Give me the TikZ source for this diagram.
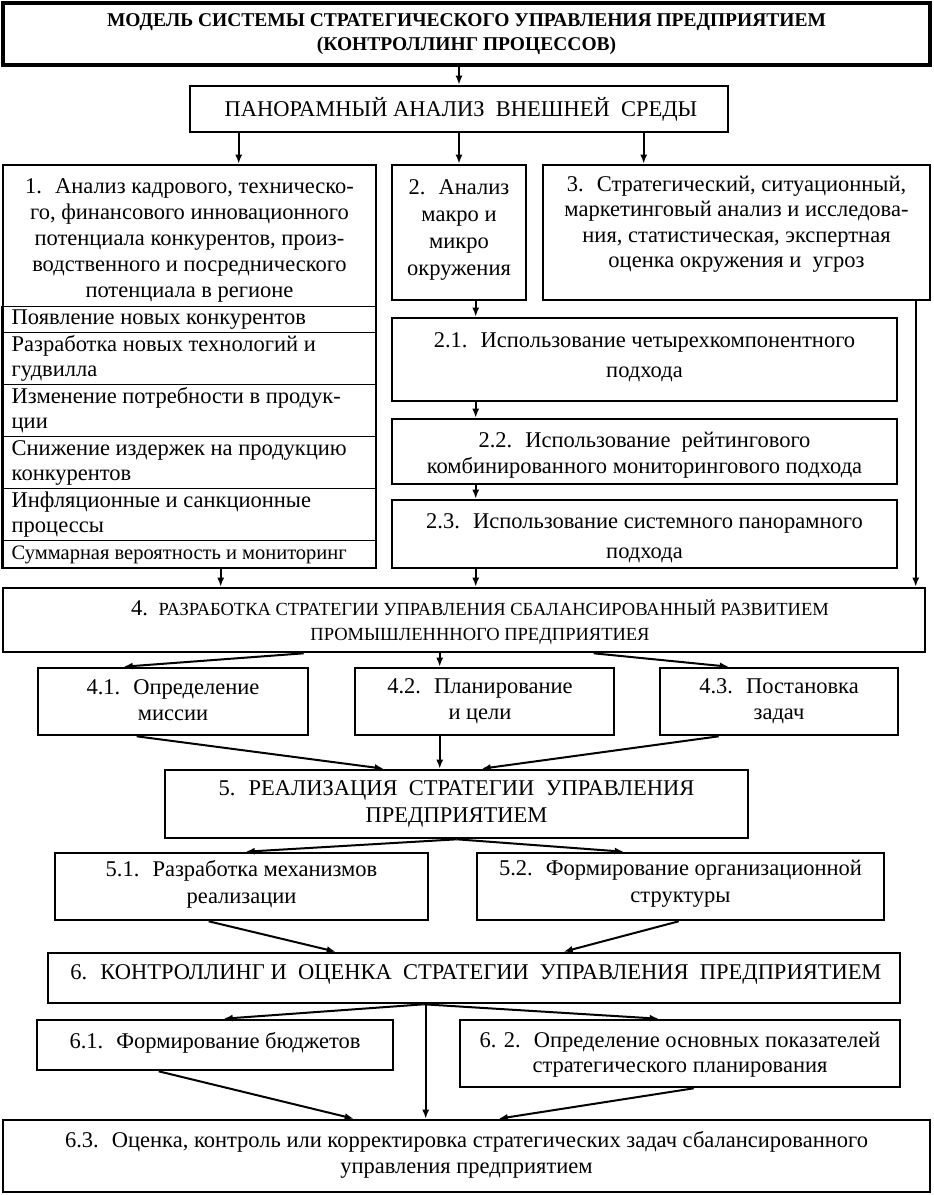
\documentclass[tikz,border=0pt]{standalone}
\usepackage{fontspec}
\setmainfont{Liberation Serif}
\usetikzlibrary{arrows.meta,calc}
\begin{document}
\begin{tikzpicture}[x=1pt,y=-1pt,
  bx/.style={draw=black, line width=2.6pt, inner sep=0pt, anchor=center},
  txt/.style={align=center, inner sep=0pt, font=\fontsize{22.5}{27}\selectfont},
  rowbox/.style={draw=black, line width=1pt, inner sep=0pt, minimum width=375.5pt, anchor=north west},
  rowtxt/.style={align=left, anchor=west, inner sep=0pt, font=\fontsize{22.5}{25}\selectfont},
  arr/.style={line width=2pt, -{Latex[length=9pt,width=7pt]}}
]
\useasboundingbox (0,0) rectangle (934,1195);
% title
\node[bx, line width=3.2pt, minimum width=927pt, minimum height=62pt] (t) at (466.5,34) {};
\node[align=center, inner sep=0pt, font=\bfseries\fontsize{19.5}{24}\selectfont] (tt) at (466.5,34)
  {МОДЕЛЬ СИСТЕМЫ СТРАТЕГИЧЕСКОГО УПРАВЛЕНИЯ ПРЕДПРИЯТИЕМ\\(КОНТРОЛЛИНГ ПРОЦЕССОВ)};
% panorama
\node[bx, minimum width=538pt, minimum height=46pt] (p) at (459,109) {};
\node[txt] (pt) at (461,109) {ПАНОРАМНЫЙ АНАЛИЗ~ ВНЕШНЕЙ~ СРЕДЫ};
% box 1
\node[bx, minimum width=373pt, minimum height=403pt] (b1) at (189.5,366.5) {};
\node[txt, font=\fontsize{22.5}{26}\selectfont] (b1h) at (189.5,240)
  {1.~ Анализ кадрового, техническо-\\го, финансового инновационного\\потенциала конкурентов, произ-\\водственного и посреднического\\потенциала в регионе};
\node[rowbox, minimum height=26pt] (r1) at (0.5,306) {};
\node[rowbox, minimum height=52pt] (r2) at (0.5,332) {};
\node[rowbox, minimum height=52pt] (r3) at (0.5,384) {};
\node[rowbox, minimum height=52pt] (r4) at (0.5,436) {};
\node[rowbox, minimum height=52pt] (r5) at (0.5,488) {};
\node[rowbox, minimum height=28pt] (r6) at (0.5,540) {};
\node[rowtxt] at ([xshift=11pt]r1.west) {Появление новых конкурентов};
\node[rowtxt] at ([xshift=11pt]r2.west) {Разработка новых технологий и\\гудвилла};
\node[rowtxt] at ([xshift=11pt]r3.west) {Изменение потребности в продук-\\ции};
\node[rowtxt] at ([xshift=11pt]r4.west) {Снижение издержек на продукцию\\конкурентов};
\node[rowtxt] at ([xshift=11pt]r5.west) {Инфляционные и санкционные\\процессы};
\node[rowtxt, font=\fontsize{20.5}{22}\selectfont] at ([xshift=11pt]r6.west) {Суммарная вероятность и мониторинг};
% box 2, 3
\node[bx, minimum width=134pt, minimum height=135pt] (b2) at (459,232.5) {};
\node[txt] (b2t) at (459,230) {2.~ Анализ\\макро и\\микро\\окружения};
\node[bx, minimum width=387pt, minimum height=135pt] (b3) at (736.5,232.5) {};
\node[txt, font=\fontsize{22.5}{25.5}\selectfont] (b3t) at (736.5,224) {3.~ Стратегический, ситуационный,\\маркетинговый анализ и исследова-\\ния, статистическая, экспертная\\оценка окружения и~ угроз};
% 2.1-2.3
\node[bx, minimum width=505pt, minimum height=83pt] (b21) at (644.5,359.5) {};
\node[txt, font=\fontsize{22.5}{30}\selectfont] at (644.5,357) {2.1.~ Использование четырехкомпонентного\\подхода};
\node[bx, minimum width=505pt, minimum height=65pt] (b22) at (644.5,451.5) {};
\node[txt, font=\fontsize{22.5}{26}\selectfont] at (644.5,455) {2.2.~ Использование~ рейтингового\\комбинированного мониторингового подхода};
\node[bx, minimum width=505pt, minimum height=68pt] (b23) at (644.5,534) {};
\node[txt, font=\fontsize{22.5}{30}\selectfont] at (644.5,538) {2.3.~ Использование системного панорамного\\подхода};
% box 4
\node[bx, minimum width=922pt, minimum height=64pt] (b4) at (464,620) {};
\node[align=center, inner sep=0pt, font=\fontsize{18.5}{25}\selectfont] at (480,622) {{\fontsize{22.5}{25}\selectfont 4.}~ РАЗРАБОТКА СТРАТЕГИИ УПРАВЛЕНИЯ СБАЛАНСИРОВАННЫЙ РАЗВИТИЕМ\\ПРОМЫШЛЕНННОГО ПРЕДПРИЯТИЕЯ};
% 4.1-4.3
\node[bx, minimum width=270pt, minimum height=67pt] (b41) at (173,701.5) {};
\node[txt, font=\fontsize{22.5}{26}\selectfont] at (173,700) {4.1.~ Определение\\миссии};
\node[bx, minimum width=259pt, minimum height=67pt] (b42) at (484.5,701.5) {};
\node[txt, font=\fontsize{22.5}{26}\selectfont] at (480,701) {4.2.~ Планирование\\и цели};
\node[bx, minimum width=238pt, minimum height=67pt] (b43) at (779,701.5) {};
\node[txt, font=\fontsize{22.5}{26}\selectfont] at (779,701) {4.3.~ Постановка\\задач};
% 5
\node[bx, minimum width=583pt, minimum height=68pt] (b5) at (456.5,804) {};
\node[txt] at (456.5,804) {5.~ РЕАЛИЗАЦИЯ~ СТРАТЕГИИ~ УПРАВЛЕНИЯ\\ПРЕДПРИЯТИЕМ};
\node[bx, minimum width=373pt, minimum height=67pt] (b51) at (241.5,886.5) {};
\node[txt] at (241.5,884) {5.1.~ Разработка механизмов\\реализации};
\node[bx, minimum width=407pt, minimum height=67pt] (b52) at (680.5,886.5) {};
\node[txt] at (680.5,884) {5.2.~ Формирование организационной\\структуры};
% 6
\node[bx, minimum width=852pt, minimum height=50pt] (b6) at (474,978) {};
\node[txt] at (476,974) {6.~ КОНТРОЛЛИНГ И~ ОЦЕНКА~ СТРАТЕГИИ~ УПРАВЛЕНИЯ~ ПРЕДПРИЯТИЕМ};
\node[bx, minimum width=356pt, minimum height=50pt] (b61) at (215,1045) {};
\node[txt] at (215,1043) {6.1.~ Формирование бюджетов};
\node[bx, minimum width=440pt, minimum height=67pt] (b62) at (680,1053.5) {};
\node[txt, font=\fontsize{22.5}{25}\selectfont] at (680,1055) {6. 2.~ Определение основных показателей\\стратегического планирования};
\node[bx, minimum width=927pt, minimum height=72pt] (b63) at (466.5,1156) {};
\node[txt, font=\fontsize{22.5}{26}\selectfont] at (466.5,1155) {6.3.~ Оценка, контроль или корректировка стратегических задач сбалансированного\\управления предприятием};
% connectors
\draw[arr] (p.north |- t.south) -- (p.north);
\draw[arr] ([xshift=50pt]p.south west) -- ([xshift=50pt]p.south west |- b1.north);
\draw[arr] (p.south) -- (b2.north);
\draw[arr] ([xshift=455pt]p.south west) -- ([xshift=455pt]p.south west |- b3.north);
\draw[arr] ([xshift=85pt]b2.south west) -- ([xshift=85pt]b2.south west |- b21.north);
\draw[arr] ([xshift=85pt]b21.south west) -- ([xshift=85pt]b21.south west |- b22.north);
\draw[arr] ([xshift=85pt]b22.south west) -- ([xshift=85pt]b22.south west |- b23.north);
\draw[arr] ([xshift=85pt]b23.south west) -- ([xshift=85pt]b23.south west |- b4.north);
\draw[arr] ([xshift=219pt]b1.south west) -- ([xshift=219pt]b1.south west |- b4.north);
\draw[arr] ([xshift=374pt]b3.south west) -- ([xshift=374pt]b3.south west |- b4.north);
\draw[arr] ([xshift=302pt]b4.south west) -- ([xshift=87pt]b41.north west);
\draw[arr] ([xshift=438pt]b4.south west) -- ([xshift=86pt]b42.north west);
\draw[arr] ([xshift=592pt]b4.south west) -- ([xshift=70pt]b43.north west);
\draw[arr] ([xshift=100pt]b41.south west) -- ([xshift=220pt]b5.north west);
\draw[arr] ([xshift=86pt]b42.south west) -- ([xshift=276pt]b5.north west);
\draw[arr] ([xshift=60pt]b43.south west) -- ([xshift=318pt]b5.north west);
\draw[arr] ([xshift=293pt]b5.south west) -- ([xshift=192pt]b51.north west);
\draw[arr] ([xshift=293pt]b5.south west) -- ([xshift=148pt]b52.north west);
\draw[arr] ([xshift=155pt]b51.south west) -- ([xshift=289pt]b6.north west);
\draw[arr] ([xshift=203pt]b52.south west) -- ([xshift=517pt]b6.north west);
\draw[arr] ([xshift=377pt]b6.south west) -- ([xshift=188pt]b61.north west);
\draw[arr] ([xshift=377pt]b6.south west) -- ([xshift=200pt]b62.north west);
\draw[arr] ([xshift=379pt]b6.south west) -- ([xshift=424pt]b63.north west);
\draw[arr] ([xshift=123pt]b61.south west) -- ([xshift=352pt]b63.north west);
\draw[arr] ([xshift=235pt]b62.south west) -- ([xshift=497pt]b63.north west);
\end{tikzpicture}
\end{document}
